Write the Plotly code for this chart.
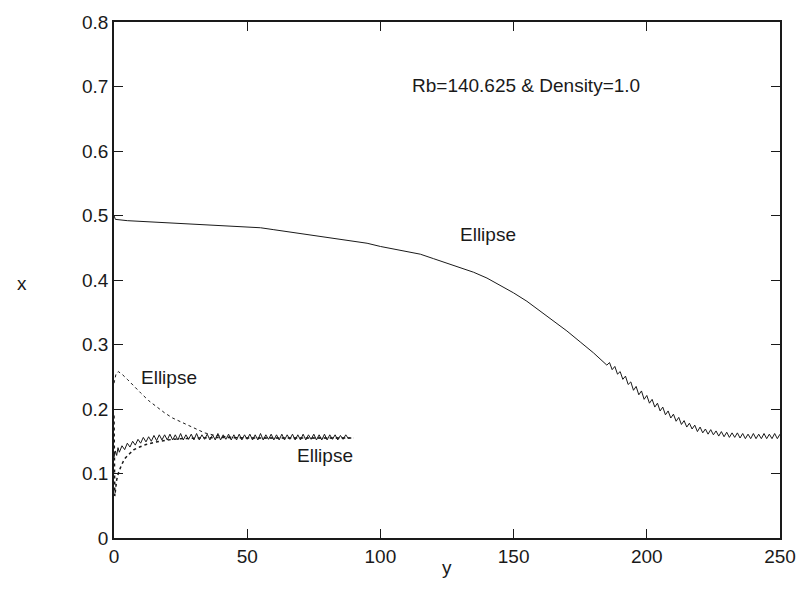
import plotly.graph_objects as go

# ---- data ----
main_x = [0, 0.5, 5, 10, 15, 20, 25, 30, 35, 40, 45, 50, 55, 60, 65, 70, 75, 80, 85, 90,
          95, 100, 105, 110, 115, 120, 125, 130, 135, 140, 145, 150, 155, 160, 165, 170, 175, 180,
          185, 186, 187, 188, 189, 190, 191, 192, 193, 194, 195, 196, 197, 198, 199, 200,
          201, 202, 203, 204, 205, 206, 207, 208, 209, 210, 211, 212, 213, 214, 215, 216,
          217, 218, 219, 220, 221, 222, 223, 224, 225, 226, 227, 228, 229, 230, 231, 232,
          233, 234, 235, 236, 237, 238, 239, 240, 241, 242, 243, 244, 245, 246, 247, 248, 249, 250]
main_y = [0.500, 0.494, 0.492, 0.491, 0.490, 0.489, 0.488, 0.487, 0.486, 0.485, 0.484, 0.482,
          0.481, 0.478, 0.475, 0.472, 0.469, 0.466, 0.463, 0.461, 0.457, 0.452, 0.448, 0.445,
          0.440, 0.433, 0.426, 0.420, 0.412, 0.403, 0.392, 0.380, 0.367, 0.352, 0.337, 0.321,
          0.304, 0.287,
          0.268, 0.272, 0.261, 0.266, 0.254, 0.258, 0.246, 0.251, 0.238, 0.242, 0.229, 0.235,
          0.222, 0.228, 0.215, 0.221, 0.209, 0.215, 0.203, 0.209, 0.197, 0.203, 0.191, 0.197,
          0.186, 0.192, 0.181, 0.187, 0.176, 0.182, 0.172, 0.178, 0.169, 0.175, 0.165, 0.172,
          0.163, 0.169, 0.161, 0.168, 0.160, 0.166, 0.158, 0.165, 0.157, 0.164, 0.156, 0.163,
          0.156, 0.163, 0.155, 0.162, 0.154, 0.161, 0.154, 0.162, 0.154, 0.161, 0.154, 0.162,
          0.154, 0.161, 0.154, 0.162, 0.154, 0.161, 0.154, 0.161]

band_x = [0, 0.5, 1, 1.5, 2, 3, 4, 5, 6, 7, 8, 9, 10, 11, 12, 13, 14, 15, 16, 17, 18, 19, 20,
          21, 22, 23, 24, 25, 26, 27, 28, 29, 30, 31, 32, 33, 34, 35, 36, 37, 38, 39, 40,
          41, 42, 43, 44, 45, 46, 47, 48, 49, 50, 51, 52, 53, 54, 55, 56, 57, 58, 59, 60,
          61, 62, 63, 64, 65, 66, 67, 68, 69, 70, 71, 72, 73, 74, 75, 76, 77, 78, 79, 80,
          81, 82, 83, 84, 85, 86, 87, 88, 89, 90]
band_y = [0.125, 0.135, 0.128, 0.140, 0.133, 0.143, 0.137, 0.147, 0.141, 0.150, 0.144, 0.153,
          0.147, 0.156, 0.149, 0.157, 0.150, 0.159, 0.151, 0.160, 0.152, 0.160, 0.152, 0.161,
          0.152, 0.160, 0.152, 0.162, 0.152, 0.160, 0.153, 0.161, 0.152, 0.162, 0.152, 0.160,
          0.153, 0.161, 0.152, 0.160, 0.152, 0.162, 0.152, 0.160, 0.153, 0.161, 0.152, 0.160,
          0.152, 0.161, 0.152, 0.160, 0.153, 0.161, 0.152, 0.160, 0.152, 0.162, 0.152, 0.160,
          0.153, 0.161, 0.152, 0.160, 0.152, 0.161, 0.152, 0.160, 0.153, 0.161, 0.152, 0.160,
          0.152, 0.161, 0.152, 0.160, 0.153, 0.161, 0.152, 0.160, 0.152, 0.161, 0.152, 0.160,
          0.153, 0.160, 0.152, 0.159, 0.153, 0.160, 0.154]

decay_x = [0, 0.8, 1.6, 3, 5, 7, 10, 13, 16, 19, 22, 25, 28, 31, 34, 37, 40, 45, 50, 60, 70, 80, 90]
decay_y = [0.240, 0.255, 0.258, 0.254, 0.246, 0.237, 0.225, 0.213, 0.203, 0.194, 0.186, 0.180,
           0.174, 0.168, 0.163, 0.160, 0.158, 0.156, 0.155, 0.155, 0.155, 0.155, 0.155]

rise_x = [0, 0.3, 1, 1.6, 2.8, 4, 5.9, 7.5, 9.6, 12, 15.8, 20, 25, 30, 40, 50, 60, 70, 80, 90]
rise_y = [0.190, 0.065, 0.090, 0.100, 0.113, 0.123, 0.131, 0.137, 0.141, 0.145, 0.149, 0.152,
          0.154, 0.155, 0.156, 0.155, 0.155, 0.155, 0.155, 0.155]

labels = ["Ellipse", "Ellipse", "Ellipse"]
label_x = [140.5, 20.7, 79.1]
label_y = [0.471, 0.249, 0.128]
title_text = "Rb=140.625 & Density=1.0"

x_ticks = [0, 50, 100, 150, 200, 250]
y_ticks = [0, 0.1, 0.2, 0.3, 0.4, 0.5, 0.6, 0.7, 0.8]

FONT = "Liberation Sans, Arial, sans-serif"
INK = "#1a1a1a"

fig = go.Figure()
fig.add_trace(go.Scatter(x=main_x, y=main_y, mode="lines",
                         line=dict(color=INK, width=1), showlegend=False))
fig.add_trace(go.Scatter(x=band_x, y=band_y, mode="lines",
                         line=dict(color=INK, width=1), showlegend=False))
fig.add_trace(go.Scatter(x=decay_x, y=decay_y, mode="lines",
                         line=dict(color=INK, width=1, dash="dot"), showlegend=False))
fig.add_trace(go.Scatter(x=rise_x, y=rise_y, mode="lines",
                         line=dict(color=INK, width=1.5, dash="dot"), showlegend=False))

for t, lx, ly in zip(labels, label_x, label_y):
    fig.add_annotation(x=lx, y=ly, text=t, showarrow=False,
                       font=dict(family=FONT, size=19, color=INK))
fig.add_annotation(x=154.6, y=0.701, text=title_text, showarrow=False,
                   font=dict(family=FONT, size=19, color=INK))

fig.add_annotation(xref="paper", yref="paper", x=-0.148, y=0.494, text="x",
                   showarrow=False, font=dict(family=FONT, size=19, color=INK))
fig.add_annotation(xref="paper", yref="paper", x=0.5, y=-0.081, text="y",
                   showarrow=False, font=dict(family=FONT, size=19, color=INK))

axis_common = dict(showgrid=False, zeroline=False, showline=True, linecolor=INK,
                   linewidth=1.5, mirror="ticks", ticks="inside", ticklen=9,
                   tickcolor=INK, tickwidth=1,
                   tickfont=dict(family=FONT, size=19, color=INK))
fig.update_xaxes(range=[0, 250], tickvals=x_ticks, **axis_common)
fig.update_yaxes(range=[0, 0.8], tickvals=y_ticks, **axis_common)

fig.update_layout(width=808, height=590, plot_bgcolor="white", paper_bgcolor="white",
                  margin=dict(l=114, r=18, t=20, b=52))

fig.write_html("out.html")
